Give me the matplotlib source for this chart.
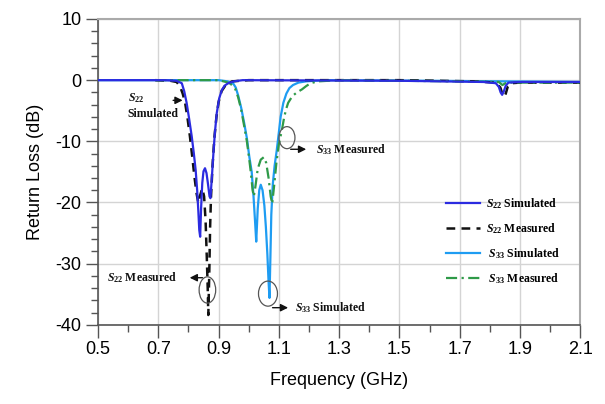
import matplotlib
matplotlib.use("Agg")
import matplotlib.pyplot as plt
from matplotlib.patches import Ellipse

plt.rcParams["font.family"] = ["Liberation Sans", "DejaVu Sans"]
plt.rcParams["axes.unicode_minus"] = False
plt.rcParams["mathtext.fontset"] = "custom"
plt.rcParams["mathtext.it"] = "Liberation Serif:italic:bold"
plt.rcParams["mathtext.rm"] = "Liberation Serif:bold"
plt.rcParams["mathtext.bf"] = "Liberation Serif:bold"

# S22 simulated (GHz, dB)
s22_sim_f = [0.5, 0.72, 0.76, 0.778, 0.786, 0.794, 0.802, 0.811, 0.818, 0.824, 0.829, 0.833,
             0.836, 0.839, 0.842, 0.846, 0.850, 0.855, 0.860, 0.865, 0.870, 0.873, 0.877,
             0.883, 0.888, 0.894, 0.902, 0.911, 0.920, 0.932, 0.95, 0.98, 1.5, 1.78, 1.82,
             1.83, 1.836, 1.841, 1.846, 1.853, 1.862, 1.9, 2.1]
s22_sim_db = [0, 0, -0.1, -0.5, -1.8, -3.7, -6.2, -9.2, -12, -14.7, -18, -21.5,
              -24.5, -25.6, -21, -16.8, -14.9, -14.4, -15.2, -17, -19, -19.3, -16.5,
              -11.9, -8.5, -5.4, -3.0, -1.6, -0.9, -0.5, -0.2, 0, -0.1, -0.3, -0.5,
              -1.1, -2.0, -2.4, -1.9, -0.9, -0.4, -0.3, -0.3]

# S22 measured
s22_meas_f = [0.69, 0.74, 0.761, 0.772, 0.781, 0.789, 0.797, 0.805, 0.812, 0.820, 0.827,
              0.833, 0.839, 0.846, 0.852, 0.857, 0.861, 0.864, 0.866, 0.869, 0.872, 0.875,
              0.880, 0.886, 0.893, 0.900, 0.910, 0.925, 0.945, 1.0, 1.5, 1.75, 1.82, 1.835,
              1.842, 1.848, 1.853, 1.86, 1.87, 1.9, 2.1]
s22_meas_db = [0, -0.1, -0.3, -1.0, -2.2, -3.7, -6.2, -9.2, -12.2, -15.8, -18.5,
               -20.1, -18.8, -17.7, -19, -23, -29, -34, -38.4, -32, -24, -19,
               -14, -9.5, -6, -3.6, -1.8, -0.7, -0.2, 0, 0, -0.2, -0.4, -1.2,
               -2.3, -2.7, -2.2, -1.0, -0.5, -0.4, -0.4]

# S33 simulated
s33_sim_f = [0.5, 0.90, 0.93, 0.948, 0.957, 0.965, 0.975, 0.985, 0.994, 1.002, 1.010,
             1.016, 1.021, 1.025, 1.030, 1.035, 1.040, 1.046, 1.052, 1.057, 1.062, 1.066,
             1.069, 1.072, 1.075, 1.080, 1.086, 1.093, 1.099, 1.106, 1.115, 1.125, 1.135,
             1.147, 1.165, 1.19, 1.25, 1.6, 2.1]
s33_sim_db = [0, 0, -0.2, -0.5, -1.2, -2.5, -4.5, -7, -9.5, -12.5, -15,
              -19, -23, -26.4, -21, -18, -17.1, -18, -20.5, -24, -28.5, -33,
              -35.6, -29, -22, -17, -14, -11.5, -9, -6, -3.7, -2.2, -1.3,
              -0.8, -0.4, -0.2, 0, -0.1, -0.3]

# S33 measured
s33_meas_f = [0.69, 0.90, 0.925, 0.94, 0.955, 0.965, 0.975, 0.985, 0.994, 1.002, 1.008,
              1.013, 1.017, 1.022, 1.030, 1.040, 1.050, 1.058, 1.066, 1.073, 1.078, 1.085,
              1.092, 1.100, 1.110, 1.118, 1.125, 1.131, 1.145, 1.16, 1.177, 1.19, 1.205,
              1.23, 1.3, 1.7, 1.83, 1.842, 1.855, 2.1]
s33_meas_db = [0, 0, -0.3, -0.6, -1.4, -2.8, -4.8, -7.5, -10, -13, -15.5,
               -18, -19, -17.5, -14.5, -13, -12.6, -13.5, -16, -19, -20.2, -17,
               -13.5, -10.5, -8.2, -6, -4.6, -3.7, -2.6, -2, -1.5, -1, -0.5,
               -0.2, 0, -0.2, -0.3, -0.8, -0.4, -0.4]

x_ticks = [0.5, 0.7, 0.9, 1.1, 1.3, 1.5, 1.7, 1.9, 2.1]
y_ticks = [10, 0, -10, -20, -30, -40]

C_S22_SIM = "#2b2be0"
C_S22_MEAS = "#111111"
C_S33_SIM = "#1e9cf2"
C_S33_MEAS = "#2e9a48"

fig = plt.figure(figsize=(6.05, 4.04), dpi=100)
ax = fig.add_axes([0.162, 0.196, 0.797, 0.757])

l3, = ax.plot(s33_sim_f, s33_sim_db, color=C_S33_SIM, lw=1.6, zorder=3)
l2, = ax.plot(s22_meas_f, s22_meas_db, color=C_S22_MEAS, lw=1.8, ls=(0, (3.5, 2.5)), zorder=4)
l4, = ax.plot(s33_meas_f, s33_meas_db, color=C_S33_MEAS, lw=1.6, ls=(0, (5, 2, 1, 2)), zorder=4)
l1, = ax.plot(s22_sim_f, s22_sim_db, color=C_S22_SIM, lw=1.6, zorder=5)

ax.set_xlim(0.5, 2.1)
ax.set_ylim(-40, 10)
ax.set_xticks(x_ticks)
ax.set_xticklabels([f"{v:g}" for v in x_ticks])
ax.set_yticks(y_ticks)
ax.set_xticks([0.6, 0.8, 1.0, 1.2, 1.4, 1.6, 1.8, 2.0], minor=True)
ax.set_yticks([v for v in range(-40, 11, 2) if v % 10], minor=True)
ax.tick_params(which="major", direction="out", length=9, width=1, color="#555", labelsize=13, pad=3)
ax.tick_params(which="minor", direction="out", length=5, width=1, color="#555")
ax.grid(True, which="major", color="#d4d4d4", lw=1)
ax.set_axisbelow(True)
for s in ["left", "bottom"]:
    ax.spines[s].set_color("#555")
    ax.spines[s].set_linewidth(1.2)
for s in ["top", "right"]:
    ax.spines[s].set_color("#aaa")
    ax.spines[s].set_linewidth(1.5)

ax.set_xlabel("Frequency (GHz)", fontsize=13, labelpad=10)
ax.set_ylabel("Return Loss (dB)", fontsize=13, labelpad=8)

# annotations
tf = dict(fontfamily="Liberation Serif", fontweight="bold", fontsize=8.5, color="#111")
arw = dict(arrowstyle="-|>", color="#111", lw=1, mutation_scale=11)

ax.text(0.598, -2.9, "$S_{22}$", va="center", ha="left", **tf)
ax.text(0.598, -5.6, "Simulated", va="center", ha="left", **tf)
ax.annotate("", xy=(0.790, -3.3), xytext=(0.740, -3.3), arrowprops=arw)

ax.add_patch(Ellipse((0.863, -34.3), 0.055, 4.3, fill=False, ec="#555", lw=0.9, zorder=6))
ax.annotate("", xy=(0.795, -32.3), xytext=(0.856, -32.3), arrowprops=arw)
ax.text(0.530, -32.3, "$S_{22}$ Measured", va="center", ha="left", **tf)

ax.add_patch(Ellipse((1.064, -34.9), 0.063, 4.1, fill=False, ec="#555", lw=0.9, zorder=6))
ax.annotate("", xy=(1.140, -37.2), xytext=(1.070, -37.2), arrowprops=arw)
ax.text(1.154, -37.2, "$S_{33}$ Simulated", va="center", ha="left", **tf)

ax.add_patch(Ellipse((1.127, -9.4), 0.053, 3.6, fill=False, ec="#555", lw=0.9, zorder=6))
ax.annotate("", xy=(1.200, -11.3), xytext=(1.130, -11.3), arrowprops=arw)
ax.text(1.222, -11.3, "$S_{33}$ Measured", va="center", ha="left", **tf)

leg = ax.legend([l1, l2, l3, l4],
                ["$S_{22}$ Simulated", "$S_{22}$ Measured", " $S_{33}$ Simulated", " $S_{33}$ Measured"],
                loc="upper left", bbox_to_anchor=(0.70, 0.455), frameon=False,
                handlelength=2.9, handletextpad=0.5, labelspacing=0.85,
                prop=dict(family="Liberation Serif", weight="bold", size=8.5))

fig.savefig("out.png", dpi=100)
